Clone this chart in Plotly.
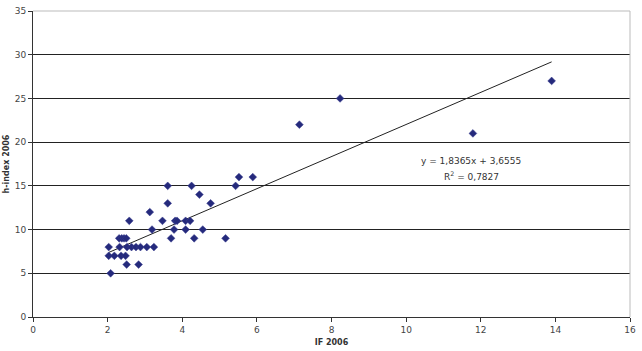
import plotly.graph_objects as go
import numpy as np

# IF 2006 (x) and h-index 2006 (y)
if_2006 = [2.08,
           2.51, 2.83,
           2.03, 2.18, 2.36, 2.48,
           2.03, 2.32, 2.52, 2.64, 2.76, 2.88, 3.05, 3.24,
           2.31, 2.38, 2.44, 2.50, 3.70, 4.32, 5.16,
           3.19, 3.78, 4.09, 4.55,
           2.58, 3.47, 3.81, 3.86, 4.09, 4.21,
           3.13,
           3.61, 4.76,
           4.46,
           3.61, 4.25, 5.43,
           5.52, 5.89,
           11.79, 7.14, 8.23, 13.90]
h_index_2006 = [5,
                6, 6,
                7, 7, 7, 7,
                8, 8, 8, 8, 8, 8, 8, 8,
                9, 9, 9, 9, 9, 9, 9,
                10, 10, 10, 10,
                11, 11, 11, 11, 11, 11,
                12,
                13, 13,
                14,
                15, 15, 15,
                16, 16,
                21, 22, 25, 27]

slope = 1.8365
intercept = 3.6555
r_squared = 0.7827
x_ticks = list(range(0, 17, 2))
y_ticks = list(range(0, 36, 5))

font_family = "DejaVu Sans"

trend_x = [min(if_2006), max(if_2006)]
trend_y = [slope * v + intercept for v in trend_x]

fig = go.Figure()
fig.add_trace(go.Scatter(
    x=trend_x, y=trend_y, mode="lines",
    line=dict(color="#222222", width=1), hoverinfo="skip", showlegend=False))
fig.add_trace(go.Scatter(
    x=if_2006, y=h_index_2006, mode="markers",
    marker=dict(symbol="diamond", size=6, color="#252a7c",
                line=dict(width=0.5, color="#3a3f90")),
    showlegend=False))

fig.add_annotation(x=11.75, y=17.9, xref="x", yref="y", showarrow=False,
                   text="y = 1,8365x + 3,6555",
                   font=dict(family=font_family, size=9, color="#333333"))
fig.add_annotation(x=11.75, y=16.1, xref="x", yref="y", showarrow=False,
                   text="R<sup>2</sup> = 0,7827",
                   font=dict(family=font_family, size=9, color="#333333"))

fig.update_layout(
    width=642, height=351,
    margin=dict(l=33, r=6, t=10, b=34),
    paper_bgcolor="white", plot_bgcolor="white",
    font=dict(family=font_family, size=9, color="#333333"),
    xaxis=dict(range=[0, 16], tickvals=x_ticks, showgrid=False,
               showline=True, linecolor="#333333", linewidth=1,
               ticks="outside", ticklen=4, tickcolor="#333333",
               zeroline=False, mirror=False,
               tickfont=dict(family=font_family, size=9, color="#444444"),
               title=dict(text="<b>IF 2006</b>", standoff=5,
                          font=dict(family=font_family, size=8, color="#333333"))),
    yaxis=dict(range=[0, 35], tickvals=y_ticks, showgrid=True,
               gridcolor="#222222", gridwidth=1,
               showline=True, linecolor="#333333", linewidth=1,
               ticks="outside", ticklen=4, tickcolor="#333333",
               zeroline=False,
               tickfont=dict(family=font_family, size=9, color="#444444"),
               title=dict(text="<b>h-index 2006</b>", standoff=3,
                          font=dict(family=font_family, size=8, color="#333333"))),
)
# light frame at top/right of plot area
fig.add_shape(type="line", xref="paper", yref="paper", x0=0, x1=1, y0=1, y1=1,
              line=dict(color="#bbbbbb", width=1))
fig.add_shape(type="line", xref="paper", yref="paper", x0=1, x1=1, y0=0, y1=1,
              line=dict(color="#bbbbbb", width=1))

fig.write_html("out.html")
